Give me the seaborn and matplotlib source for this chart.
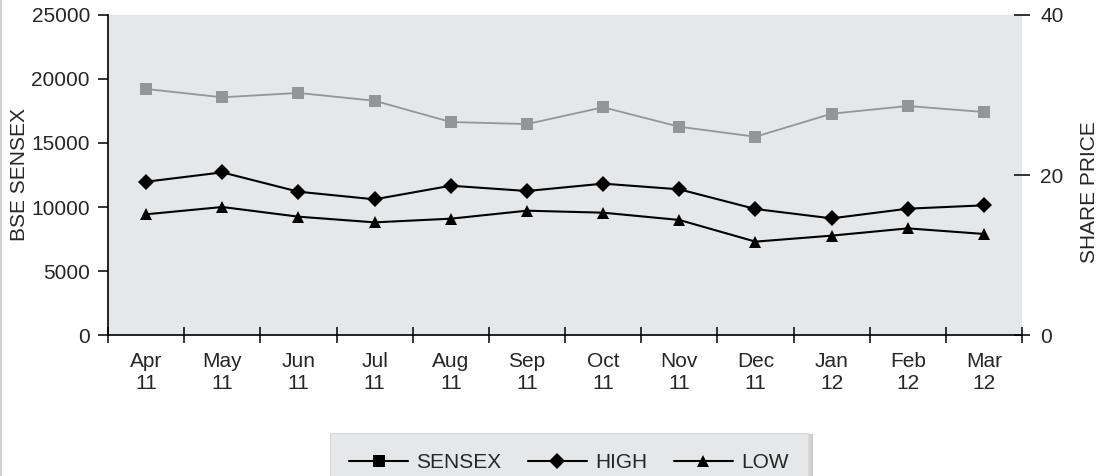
import numpy as np
import pandas as pd
import matplotlib
matplotlib.use("Agg")
import matplotlib.pyplot as plt
from matplotlib.lines import Line2D
import seaborn as sns

# data
months = ["Apr\n11", "May\n11", "Jun\n11", "Jul\n11", "Aug\n11", "Sep\n11",
          "Oct\n11", "Nov\n11", "Dec\n11", "Jan\n12", "Feb\n12", "Mar\n12"]
sensex = [19220, 18570, 18910, 18300, 16640, 16480, 17790, 16270, 15490, 17290, 17890, 17420]
high = [19.16, 20.33, 17.91, 16.96, 18.66, 18.00, 18.92, 18.21, 15.75, 14.58, 15.79, 16.21]
low = [15.09, 16.00, 14.79, 14.08, 14.54, 15.54, 15.29, 14.38, 11.67, 12.42, 13.33, 12.63]

left_ticks = [0, 5000, 10000, 15000, 20000, 25000]
right_ticks = [0, 20, 40]

bg = "#e6e7e8"
grey = "#939598"

sns.set_style("ticks")
plt.rcParams["font.family"] = ["Liberation Sans", "DejaVu Sans"]

df = pd.DataFrame({"month": months, "sensex": sensex, "high": high, "low": low})

fig = plt.figure(figsize=(11.08, 4.76), dpi=100)
ax = fig.add_axes([0.0975, 0.2962, 0.8249, 0.6723])
ax.set_facecolor(bg)
ax2 = ax.twinx()

sns.lineplot(data=df, x="month", y="sensex", ax=ax, color=grey, lw=1.3,
             marker="s", markersize=9, markeredgewidth=0, legend=False)
sns.lineplot(data=df, x="month", y="high", ax=ax2, color="black", lw=1.5,
             marker="D", markersize=8, markeredgewidth=0, legend=False)
sns.lineplot(data=df, x="month", y="low", ax=ax2, color="black", lw=1.5,
             marker="^", markersize=8, markeredgewidth=0, legend=False)

ax.set_xlim(-0.5, len(months) - 0.5)
ax.set_ylim(0, 25000)
ax2.set_ylim(0, 40)
ax.set_yticks(left_ticks)
ax2.set_yticks(right_ticks)

# category labels at centres, crossing ticks at the boundaries
ax.set_xticks(range(len(months)))
ax.set_xticklabels(months)
ax.set_xticks(np.arange(-0.5, len(months)), minor=True)
ax.tick_params(axis="x", which="both", bottom=True, top=False)
ax.tick_params(axis="x", which="major", length=0, pad=12, labelsize=15)
ax.tick_params(axis="x", which="minor", direction="inout", length=11.5, width=1.1, color="black")
ax.tick_params(axis="y", left=True, direction="out", length=7, width=1.1, pad=6, labelsize=15, color="black")
ax2.tick_params(axis="y", right=True, direction="inout", length=12, width=1.1, pad=7, labelsize=15, color="black")

for s in ["top", "right"]:
    ax.spines[s].set_visible(False)
for s in ax2.spines.values():
    s.set_visible(False)
ax.spines["left"].set_color("black")
ax.spines["bottom"].set_color("black")
ax.spines["left"].set_linewidth(1.2)
ax.spines["bottom"].set_linewidth(1.2)

ax.set_xlabel("")
ax.set_ylabel("BSE SENSEX", fontsize=15)
ax2.set_ylabel("SHARE PRICE", fontsize=15)
ax.yaxis.set_label_coords(-0.087, 0.5)
ax2.yaxis.set_label_coords(1.0635, 0.448)

handles = [
    Line2D([], [], color="black", lw=1.5, marker="s", markersize=9, markeredgewidth=0),
    Line2D([], [], color="black", lw=1.5, marker="D", markersize=8, markeredgewidth=0),
    Line2D([], [], color="black", lw=1.5, marker="^", markersize=8, markeredgewidth=0),
]
leg = fig.legend(handles, ["SENSEX", "HIGH", "LOW"], ncol=3, loc="upper center",
                 bbox_to_anchor=(0.5135, 0.0903), borderaxespad=0, fontsize=15,
                 frameon=True, fancybox=False,
                 shadow={"ox": 3, "oy": -1, "color": "#a8a8a8"},
                 handlelength=2.8, handletextpad=0.4, columnspacing=1.3,
                 borderpad=0.95)
leg.get_frame().set_facecolor(bg)
leg.get_frame().set_edgecolor("#d8d8d8")
leg.get_frame().set_linewidth(0.8)

# thin frame line on the left edge of the picture
fig.add_artist(Line2D([0.001, 0.001], [0, 1], transform=fig.transFigure,
                      color="#d0d0d0", lw=1.5))

fig.savefig("out.png", dpi=100)
